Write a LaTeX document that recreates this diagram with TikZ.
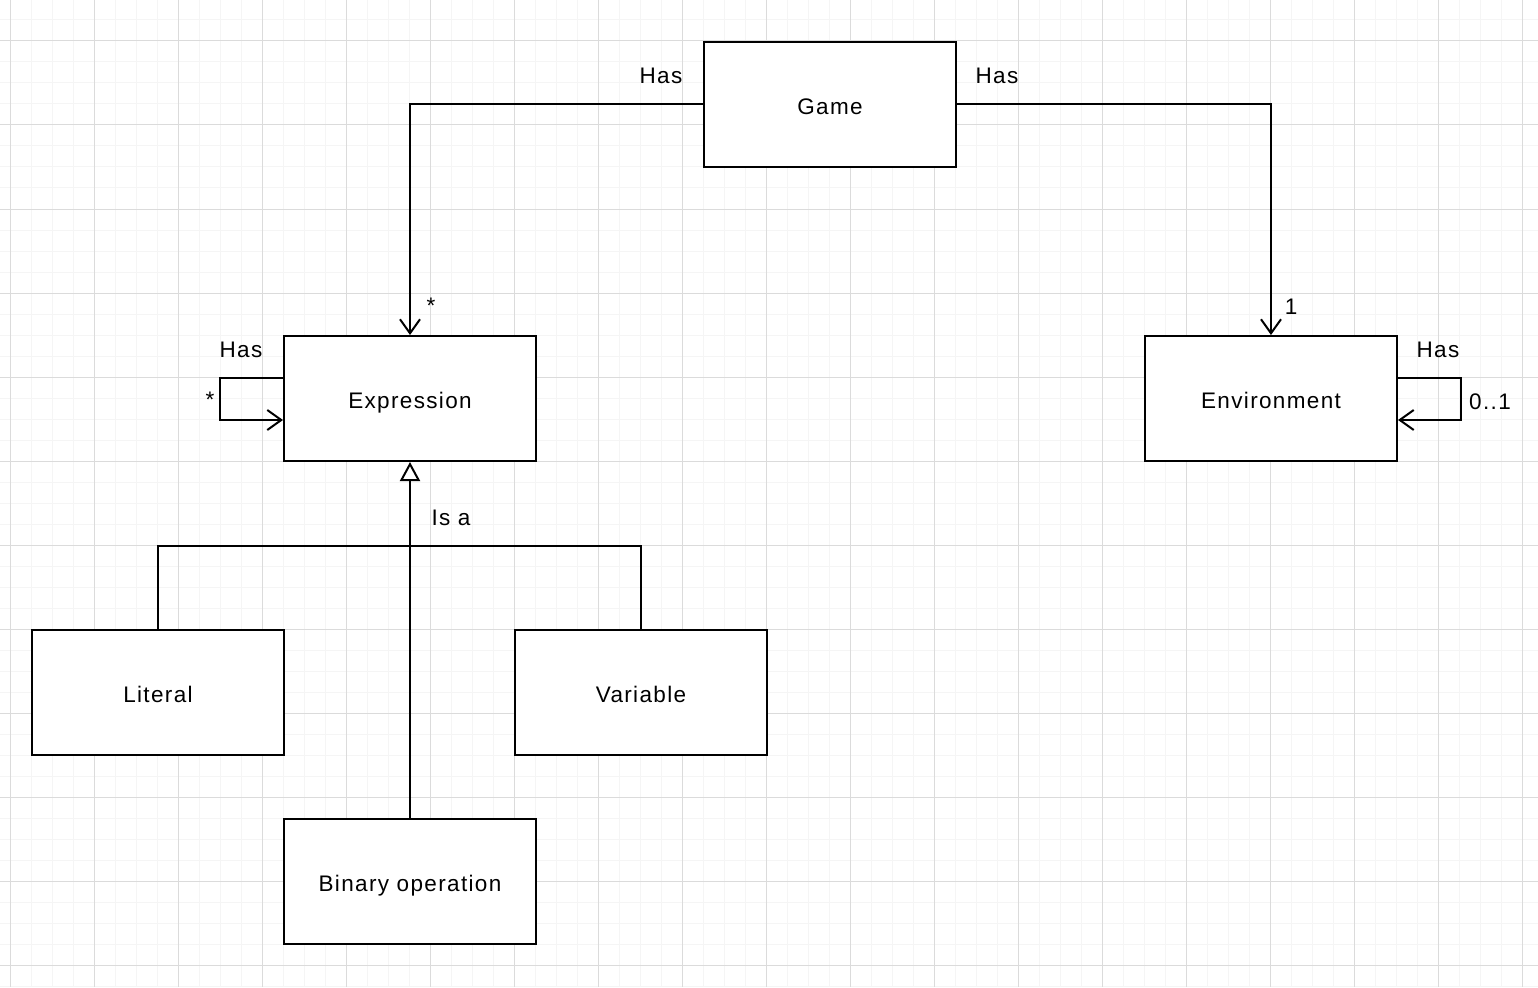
\documentclass[tikz,border=0pt]{standalone}
\usepackage{fontspec}
\setmainfont{Liberation Sans}[LetterSpace=6]
\usetikzlibrary{arrows.meta}
\begin{document}
\begin{tikzpicture}[x=1pt,y=-1pt,
  box/.style={draw=black,line width=2pt,fill=white,minimum width=252pt,minimum height=125pt,inner sep=0pt,text height=20pt,text depth=0pt,font=\fontsize{22.5}{26}\selectfont},
  lbl/.style={inner sep=0pt,text height=16pt,text depth=0pt,font=\fontsize{22.5}{26}\selectfont},
  assoc/.style={draw=black,line width=2pt,-{Straight Barb[length=14pt,width=20pt,line width=2pt]}},
  isa/.style={draw=black,line width=2pt,-{Triangle[open,length=19pt,width=20pt,line width=2pt,fill=white]}},
  line/.style={draw=black,line width=2pt},
  minorg/.style={draw=black!4,line width=1pt},
  majorg/.style={draw=black!14,line width=1pt}]
\useasboundingbox (0,0) rectangle (1538,987);
\fill[white] (0,0) rectangle (1538,987);
% grid
\foreach \i in {0,...,72} {\draw[minorg] (10+21*\i,0) -- (10+21*\i,987);}
\foreach \i in {1,...,47} {\draw[minorg] (0,-1+21*\i) -- (1538,-1+21*\i);}
\foreach \i in {0,...,18} {\draw[majorg] (10+84*\i,0) -- (10+84*\i,987);}
\foreach \i in {0,...,11} {\draw[majorg] (0,41+84*\i) -- (1538,41+84*\i);}
% nodes
\node[box] (game) at (830,104.5) {Game};
\node[box] (expr) at (410,398.5) {Expression};
\node[box] (env) at (1271,398.5) {Environment};
\node[box] (lit) at (158,692.5) {Literal};
\node[box] (varb) at (641,692.5) {Variable};
\node[box] (binop) at (410,881.5) {Binary operation};
\coordinate (j) at (410,546);
% connectors
\draw[assoc] (game.west) -| (expr.north);
\draw[assoc] (game.east) -| (env.north);
\draw[assoc] ([yshift=20.5pt]expr.west) -- ++(-63,0) |- ([yshift=-21.5pt]expr.west);
\draw[assoc] ([yshift=20.5pt]env.east) -- ++(63,0) |- ([yshift=-21.5pt]env.east);
\draw[line] (lit.north) |- (j) -| (varb.north);
\draw[isa] (binop.north) -- (expr.south);
% labels
\node[lbl] (l1) at (661,76) {Has};
\node[lbl] (l2) at (997,76) {Has};
\node[lbl] (l3) at (431,305) {*};
\node[lbl] (l4) at (1291,306) {1};
\node[lbl] (l5) at (241,349) {Has};
\node[lbl] (l6) at (210,399) {*};
\node[lbl] (l7) at (1438,349) {Has};
\node[lbl] (l8) at (1490,401) {0..1};
\node[lbl] (l9) at (451,517) {Is a};
\end{tikzpicture}
\end{document}
